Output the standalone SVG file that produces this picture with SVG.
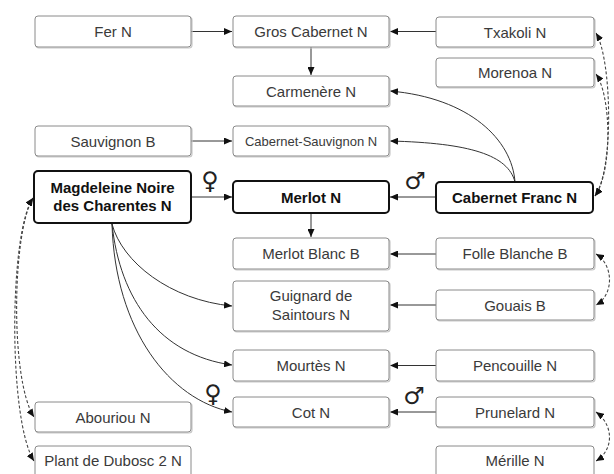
<svg xmlns="http://www.w3.org/2000/svg" width="614" height="474" viewBox="0 0 614 474">
<style>
.box{fill:#fff;stroke:#8a8a8a;stroke-width:1}
.sh{fill:none;stroke:#c8c8c8;stroke-width:1.2}
.bold{fill:#fff;stroke:#111;stroke-width:2}
.t{font-family:"Liberation Sans",Arial,sans-serif;font-size:15px;fill:#3a3a3a;text-anchor:middle}
.tb{font-family:"Liberation Sans",Arial,sans-serif;font-size:15px;font-weight:bold;fill:#111;text-anchor:middle}
.sym{font-family:"DejaVu Sans",sans-serif;font-size:24px;fill:#222;text-anchor:middle}
.c{fill:none;stroke:#333;stroke-width:1}
.d{fill:none;stroke:#444;stroke-width:1.1;stroke-dasharray:3,2}
</style>
<defs>
<marker id="a" viewBox="0 0 8 7" refX="8" refY="3.5" markerWidth="8" markerHeight="7" markerUnits="userSpaceOnUse" orient="auto-start-reverse"><path d="M0,0 L8,3.5 L0,7 z" fill="#111"/></marker>
</defs>
<g id="connectors">
<path class="c" d="M191,31.5 H232" marker-end="url(#a)"/>
<path class="c" d="M436,31.5 H390" marker-end="url(#a)"/>
<path class="c" d="M311,47 V75" marker-end="url(#a)"/>
<path class="c" d="M191,141 H232" marker-end="url(#a)"/>
<path class="c" d="M515,182 C512,140 470,98 390,91" marker-end="url(#a)"/>
<path class="c" d="M515,182 C508,155 470,143 390,141" marker-end="url(#a)"/>
<path class="c" d="M191,197 H232" marker-end="url(#a)"/>
<path class="c" d="M436,197 H390" marker-end="url(#a)"/>
<path class="c" d="M311,213 V237" marker-end="url(#a)"/>
<path class="c" d="M436,254 H390" marker-end="url(#a)"/>
<path class="c" d="M436,305 H390" marker-end="url(#a)"/>
<path class="c" d="M436,365.5 H390" marker-end="url(#a)"/>
<path class="c" d="M436,412 H390" marker-end="url(#a)"/>
<path class="c" d="M112,224 C122,262 170,300 232,306" marker-end="url(#a)"/>
<path class="c" d="M112,224 C120,300 160,355 232,365" marker-end="url(#a)"/>
<path class="c" d="M112,224 C115,330 170,400 232,412" marker-end="url(#a)"/>
<path class="d" d="M596,33 C612,60 614,170 595,196" marker-start="url(#a)" marker-end="url(#a)"/>
<path class="d" d="M596,74 C611,95 613,170 595,196" marker-start="url(#a)" marker-end="url(#a)"/>
<path class="d" d="M596,254 C614,265 614,295 596,305" marker-start="url(#a)" marker-end="url(#a)"/>
<path class="d" d="M596,412 C614,425 614,450 596,461" marker-start="url(#a)" marker-end="url(#a)"/>
<path class="d" d="M33,198 C12,232 10,380 34,417" marker-start="url(#a)" marker-end="url(#a)"/>
<path class="d" d="M33,198 C9,232 8,420 34,461" marker-start="url(#a)" marker-end="url(#a)"/>
<text class="sym" x="210" y="189">♀</text>
<text class="sym" x="415" y="189">♂</text>
<text class="sym" x="213" y="402">♀</text>
<text class="sym" x="414" y="404">♂</text>
</g>
<g id="fer"><rect class="sh" x="36" y="17" width="156" height="31" rx="3"/><rect class="box" x="35" y="16" width="156" height="31" rx="3"/><text class="t" x="113" y="37">Fer N</text></g>
<g id="gros"><rect class="sh" x="234" y="17" width="156" height="31" rx="3"/><rect class="box" x="233" y="16" width="156" height="31" rx="3"/><text class="t" x="311" y="37">Gros Cabernet N</text></g>
<g id="txakoli"><rect class="sh" x="437" y="18" width="158" height="30" rx="3"/><rect class="box" x="436" y="17" width="158" height="30" rx="3"/><text class="t" x="515" y="37.5">Txakoli N</text></g>
<g id="morenoa"><rect class="sh" x="437" y="59" width="158" height="29" rx="3"/><rect class="box" x="436" y="58" width="158" height="29" rx="3"/><text class="t" x="515" y="78">Morenoa N</text></g>
<g id="carmenere"><rect class="sh" x="234" y="77" width="156" height="30" rx="3"/><rect class="box" x="233" y="76" width="156" height="30" rx="3"/><text class="t" x="311" y="96.5">Carmenère N</text></g>
<g id="sauvignon"><rect class="sh" x="36" y="127" width="156" height="30" rx="3"/><rect class="box" x="35" y="126" width="156" height="30" rx="3"/><text class="t" x="113" y="146.5">Sauvignon B</text></g>
<g id="cabsauv"><rect class="sh" x="234" y="127" width="156" height="30" rx="3"/><rect class="box" x="233" y="126" width="156" height="30" rx="3"/><text class="t" x="311" y="146" style="font-size:13px">Cabernet-Sauvignon N</text></g>
<g id="magdeleine"><rect class="bold" x="34" y="171" width="157" height="52" rx="4"/><text class="tb" x="112.5" y="193">Magdeleine Noire</text><text class="tb" x="112.5" y="211">des Charentes N</text></g>
<g id="merlot"><rect class="bold" x="233" y="181" width="156" height="32" rx="4"/><text class="tb" x="311" y="202.5">Merlot N</text></g>
<g id="cabfranc"><rect class="bold" x="436" y="182" width="157" height="31" rx="4"/><text class="tb" x="514.5" y="203">Cabernet Franc N</text></g>
<g id="merlotblanc"><rect class="sh" x="234" y="239" width="156" height="31" rx="3"/><rect class="box" x="233" y="238" width="156" height="31" rx="3"/><text class="t" x="311" y="259">Merlot Blanc B</text></g>
<g id="folle"><rect class="sh" x="437" y="239" width="158" height="31" rx="3"/><rect class="box" x="436" y="238" width="158" height="31" rx="3"/><text class="t" x="515" y="259">Folle Blanche B</text></g>
<g id="guignard"><rect class="sh" x="234" y="282" width="156" height="50" rx="3"/><rect class="box" x="233" y="281" width="156" height="50" rx="3"/><text class="t" x="311" y="301">Guignard de</text><text class="t" x="311" y="320">Saintours N</text></g>
<g id="gouais"><rect class="sh" x="437" y="291" width="158" height="30" rx="3"/><rect class="box" x="436" y="290" width="158" height="30" rx="3"/><text class="t" x="515" y="310.5">Gouais B</text></g>
<g id="mourtes"><rect class="sh" x="234" y="351" width="156" height="31" rx="3"/><rect class="box" x="233" y="350" width="156" height="31" rx="3"/><text class="t" x="311" y="371">Mourtès N</text></g>
<g id="pencouille"><rect class="sh" x="437" y="351" width="158" height="31" rx="3"/><rect class="box" x="436" y="350" width="158" height="31" rx="3"/><text class="t" x="515" y="371">Pencouille N</text></g>
<g id="cot"><rect class="sh" x="234" y="398" width="156" height="30" rx="3"/><rect class="box" x="233" y="397" width="156" height="30" rx="3"/><text class="t" x="311" y="417.5">Cot N</text></g>
<g id="prunelard"><rect class="sh" x="437" y="398" width="158" height="30" rx="3"/><rect class="box" x="436" y="397" width="158" height="30" rx="3"/><text class="t" x="515" y="417.5">Prunelard N</text></g>
<g id="abouriou"><rect class="sh" x="36" y="403" width="156" height="30" rx="3"/><rect class="box" x="35" y="402" width="156" height="30" rx="3"/><text class="t" x="113" y="422.5">Abouriou N</text></g>
<g id="plant"><rect class="box" x="35" y="446" width="156" height="32" rx="3"/><text class="t" x="113" y="466">Plant de Dubosc 2 N</text></g>
<g id="merille"><rect class="box" x="436" y="446" width="158" height="32" rx="3"/><text class="t" x="515" y="466">Mérille N</text></g>
</svg>
